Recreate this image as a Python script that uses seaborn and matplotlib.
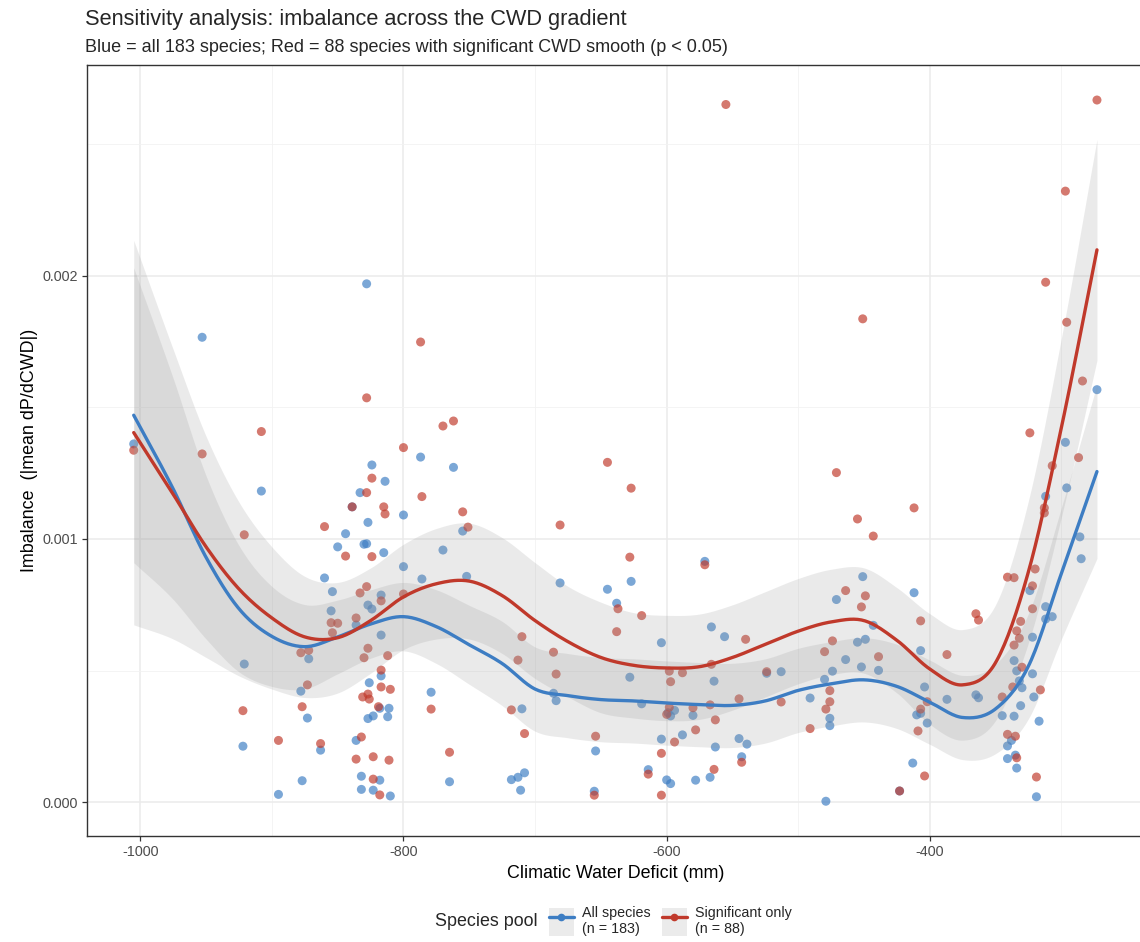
import numpy as np
import pandas as pd
import matplotlib
matplotlib.use("Agg")
import matplotlib.pyplot as plt
import seaborn as sns
from matplotlib.lines import Line2D
from matplotlib.patches import Patch
from matplotlib.ticker import MultipleLocator, FormatStrFormatter

# ---------------------------------------------------------------- data
# species-level imbalance vs climatic water deficit
all_cwd = [-828, -953, -1005, -787, -824, -814, -908, -833, -839, -800, -827, -844, -850, -830, -828,
           -815, -800, -860, -786, -854, -817, -827, -824, -855, -836, -817, -872, -921, -817, -826,
           -878, -779, -818, -811, -823, -827, -812, -873, -836, -863, -922, -877, -832, -818, -895,
           -832, -823, -810,
           -762, -755, -770, -571, -752, -681, -645, -627, -638, -566,
           -604, -556, -628, -564, -524, -513, -686, -684, -619, -599, -597, -594, -580, -710, -604,
           -588, -545, -539, -563, -654, -543, -614, -567, -578, -600, -597, -765, -718, -713, -708,
           -711, -655,
           -273,
           -297, -296, -312, -286, -285, -451, -324, -471, -412, -312, -312, -307, -443,
           -322, -455, -449, -407, -464, -336, -452, -439, -474, -334, -322, -480, -332, -404, -330,
           -321, -491, -387, -365, -363, -331, -410, -407, -402, -345, -336, -476, -476, -317, -338,
           -341, -335, -341, -413, -334, -423, -319, -479]
all_imb = [0.001969, 0.001766, 0.001361, 0.001311, 0.001281, 0.001219, 0.001182, 0.001176, 0.001122,
           0.001091, 0.001063, 0.001020, 0.000970, 0.000980, 0.000982,
           0.000948, 0.000895, 0.000852, 0.000848, 0.000800, 0.000787, 0.000749, 0.000734, 0.000727,
           0.000673, 0.000635, 0.000545, 0.000525, 0.000480, 0.000454, 0.000422, 0.000418, 0.000357,
           0.000357, 0.000328, 0.000318, 0.000325, 0.000320, 0.000235, 0.000198, 0.000213, 0.000082,
           0.000099, 0.000084, 0.000030, 0.000049, 0.000046, 0.000024,
           0.001272, 0.001030, 0.000958, 0.000915, 0.000858, 0.000833, 0.000809, 0.000839, 0.000756,
           0.000666,
           0.000606, 0.000629, 0.000475, 0.000460, 0.000490, 0.000496, 0.000414, 0.000386, 0.000374,
           0.000340, 0.000328, 0.000349, 0.000330, 0.000355, 0.000240, 0.000256, 0.000242, 0.000221,
           0.000210, 0.000195, 0.000173, 0.000124, 0.000095, 0.000084, 0.000085, 0.000071, 0.000078,
           0.000086, 0.000095, 0.000112, 0.000046, 0.000042,
           0.001567,
           0.001367, 0.001194, 0.001162, 0.001008, 0.000925, 0.000857, 0.000804, 0.000770, 0.000796,
           0.000743, 0.000696, 0.000705, 0.000672,
           0.000627, 0.000608, 0.000619, 0.000576, 0.000542, 0.000538, 0.000514, 0.000501, 0.000498,
           0.000499, 0.000488, 0.000467, 0.000461, 0.000438, 0.000435, 0.000400, 0.000396, 0.000391,
           0.000408, 0.000397, 0.000367, 0.000332, 0.000338, 0.000301, 0.000329, 0.000327, 0.000319,
           0.000291, 0.000308, 0.000235, 0.000214, 0.000179, 0.000166, 0.000149, 0.000130, 0.000043,
           0.000021, 0.000004]

sig_cwd = [-787, -828, -908, -1005, -953, -800, -824, -828, -786, -839, -815, -814, -860, -921,
           -844, -824, -828, -833, -800, -817, -836, -855, -850, -854, -827, -878, -872, -830, -812,
           -817, -873, -817, -810, -827, -831, -826, -877, -819, -779, -922, -832, -895, -863, -836,
           -823, -811, -823, -818,
           -555,
           -770, -762, -645, -627, -755, -751, -681, -628, -571, -637, -619,
           -638, -710, -540, -713, -686, -684, -598, -588, -566, -597, -524, -513, -598, -600, -580,
           -567, -545, -563, -718, -578, -708, -654, -594, -765, -604, -543, -564, -614, -655, -604,
           -273, -297, -312, -451, -296, -284,
           -324, -287, -307, -471, -412, -313, -313, -455, -443, -320, -341, -336, -322, -464, -449,
           -452, -322, -365, -363, -407, -331,
           -334, -332, -336, -474, -480, -387, -439, -330, -476, -337, -316, -345, -402, -476, -479,
           -407, -491, -409, -341, -335, -334, -404, -319, -423]
sig_imb = [0.001748, 0.001536, 0.001408, 0.001337, 0.001323, 0.001347, 0.001231, 0.001176, 0.001161,
           0.001122, 0.001122, 0.001095, 0.001047, 0.001016,
           0.000935, 0.000933, 0.000819, 0.000795, 0.000791, 0.000765, 0.000700, 0.000682, 0.000680,
           0.000644, 0.000585, 0.000568, 0.000577, 0.000549, 0.000557, 0.000502, 0.000446, 0.000438,
           0.000429, 0.000411, 0.000400, 0.000392, 0.000363, 0.000363, 0.000354, 0.000348, 0.000248,
           0.000235, 0.000223, 0.000164, 0.000173, 0.000160, 0.000088, 0.000028,
           0.002650,
           0.001429, 0.001448, 0.001291, 0.001193, 0.001103, 0.001045, 0.001053, 0.000931, 0.000902,
           0.000735, 0.000709,
           0.000648, 0.000629, 0.000619, 0.000540, 0.000570, 0.000487, 0.000498, 0.000492, 0.000524,
           0.000458, 0.000496, 0.000381, 0.000361, 0.000334, 0.000359, 0.000370, 0.000393, 0.000313,
           0.000351, 0.000275, 0.000261, 0.000251, 0.000229, 0.000190, 0.000186, 0.000152, 0.000125,
           0.000107, 0.000027, 0.000027,
           0.002667, 0.002321, 0.001975, 0.001836, 0.001823, 0.001600,
           0.001403, 0.001309, 0.001278, 0.001252, 0.001118, 0.001118, 0.001099, 0.001076, 0.001011,
           0.000886, 0.000855, 0.000853, 0.000822, 0.000804, 0.000784, 0.000742, 0.000735, 0.000716,
           0.000692, 0.000689, 0.000687,
           0.000651, 0.000623, 0.000597, 0.000613, 0.000572, 0.000561, 0.000553, 0.000513, 0.000424,
           0.000438, 0.000427, 0.000400, 0.000382, 0.000382, 0.000354, 0.000354, 0.000280, 0.000271,
           0.000258, 0.000251, 0.000169, 0.000100, 0.000096, 0.000043]

# fitted smooths and their confidence half-widths
fit_cwd = [-1005, -975, -950, -925, -900, -875, -850, -825, -800, -775, -750, -725, -700, -675,
           -650, -625, -600, -575, -550, -525, -500, -475, -450, -425, -400, -375, -350, -325,
           -300, -273]
fit_all = [0.001470, 0.001190, 0.000930, 0.000735, 0.000630, 0.000591, 0.000628, 0.000677,
           0.000705, 0.000667, 0.000598, 0.000527, 0.000430, 0.000405, 0.000390, 0.000385,
           0.000377, 0.000371, 0.000368, 0.000385, 0.000425, 0.000450, 0.000465, 0.000440,
           0.000380, 0.000322, 0.000355, 0.000518, 0.000870, 0.001256]
fit_sig = [0.001404, 0.001170, 0.000970, 0.000810, 0.000700, 0.000628, 0.000625, 0.000690,
           0.000780, 0.000830, 0.000840, 0.000785, 0.000690, 0.000610, 0.000550, 0.000520,
           0.000510, 0.000515, 0.000550, 0.000600, 0.000650, 0.000685, 0.000690, 0.000615,
           0.000506, 0.000446, 0.000531, 0.000877, 0.001424, 0.002098]
se_all = [0.00056, 0.00042, 0.00031, 0.00024, 0.00019, 0.00016, 0.00014, 0.00013, 0.00013,
          0.00014, 0.00015, 0.00016, 0.00016, 0.00016, 0.00016, 0.00016, 0.00016, 0.00016,
          0.00016, 0.00016, 0.00016, 0.00016, 0.00016, 0.00016, 0.00016, 0.00016, 0.00017,
          0.00020, 0.00025, 0.00033]
se_sig = [0.00073, 0.00055, 0.00042, 0.00033, 0.00027, 0.00023, 0.00021, 0.00020, 0.00020,
          0.00021, 0.00022, 0.00022, 0.00022, 0.00021, 0.00021, 0.00020, 0.00020, 0.00020,
          0.00020, 0.00020, 0.00020, 0.00020, 0.00020, 0.00020, 0.00021, 0.00021, 0.00022,
          0.00027, 0.00034, 0.00042]

pool_labels = ["All species\n(n = 183)", "Significant only\n(n = 88)"]
BLUE = "#3D7DC3"
RED = "#C0392B"


def hermite(xk, yk, xs):
    """Cubic Hermite interpolation through the knots (finite-difference slopes)."""
    xk = np.asarray(xk, float)
    yk = np.asarray(yk, float)
    m = np.gradient(yk, xk)
    i = np.clip(np.searchsorted(xk, xs, side="right") - 1, 0, len(xk) - 2)
    h = xk[i + 1] - xk[i]
    t = (xs - xk[i]) / h
    h00 = 2 * t**3 - 3 * t**2 + 1
    h10 = t**3 - 2 * t**2 + t
    h01 = -2 * t**3 + 3 * t**2
    h11 = t**3 - t**2
    return h00 * yk[i] + h10 * h * m[i] + h01 * yk[i + 1] + h11 * h * m[i + 1]


# ---------------------------------------------------------------- figure
sns.set_theme(style="white")
plt.rcParams["font.family"] = ["Liberation Sans", "DejaVu Sans"]

fig = plt.figure(figsize=(11.4, 9.42), dpi=100)
ax = fig.add_axes([87 / 1140, 106 / 942, 1058 / 1140, 771 / 942])

pts = pd.DataFrame({
    "cwd": all_cwd + sig_cwd,
    "imb": all_imb + sig_imb,
    "pool": [pool_labels[0]] * len(all_cwd) + [pool_labels[1]] * len(sig_cwd),
})
sns.scatterplot(data=pts, x="cwd", y="imb", hue="pool",
                palette={pool_labels[0]: BLUE, pool_labels[1]: RED},
                s=42, alpha=0.68, edgecolor="none", legend=False, ax=ax, zorder=2)

xs = np.linspace(fit_cwd[0], fit_cwd[-1], 500)
for fit, se, col in [(fit_all, se_all, BLUE), (fit_sig, se_sig, RED)]:
    ys = hermite(fit_cwd, fit, xs)
    hw = hermite(fit_cwd, se, xs)
    ax.fill_between(xs, ys - hw, ys + hw, color="#999999", alpha=0.2, lw=0, zorder=3)
for fit, col in [(fit_all, BLUE), (fit_sig, RED)]:
    ys = hermite(fit_cwd, fit, xs)
    sns.lineplot(x=xs, y=ys, color=col, lw=2.4, ax=ax, zorder=4, sort=False)

# axes, grid and ticks in a light bordered theme
ax.set_xlim(-1040.5, -236.5)
ax.set_ylim(-0.000128, 0.0028)
ax.xaxis.set_major_locator(MultipleLocator(200))
ax.xaxis.set_minor_locator(MultipleLocator(100))
ax.yaxis.set_major_locator(MultipleLocator(0.001))
ax.yaxis.set_minor_locator(MultipleLocator(0.0005))
ax.yaxis.set_major_formatter(FormatStrFormatter("%.3f"))
ax.xaxis.set_major_formatter(FormatStrFormatter("%d"))
ax.grid(True, which="major", color="#EBEBEB", lw=1.1)
ax.grid(True, which="minor", color="#F2F2F2", lw=0.6)
ax.set_axisbelow(True)
for sp in ax.spines.values():
    sp.set_color("#333333")
    sp.set_linewidth(1.0)
ax.tick_params(axis="both", which="major", length=3.5, width=0.9, color="#333333",
               labelsize=10.4, labelcolor="#4D4D4D", bottom=True, left=True, pad=3)
ax.tick_params(axis="both", which="minor", length=0)

ax.set_xlabel("Climatic Water Deficit (mm)", fontsize=12.9, color="black", labelpad=4)
ax.set_ylabel("Imbalance  (|mean dP/dCWD|)", fontsize=12.9, color="black", labelpad=3)

fig.text(85 / 1140, 1 - 19 / 942, "Sensitivity analysis: imbalance across the CWD gradient",
         fontsize=15.7, va="center", ha="left")
fig.text(85 / 1140, 1 - 47 / 942,
         "Blue = all 183 species; Red = 88 species with significant CWD smooth (p < 0.05)",
         fontsize=13, va="center", ha="left")

# legend along the bottom: title at left, two keys to its right
fig.text(435 / 1140, 1 - 922 / 942, "Species pool", fontsize=12.9, va="center", ha="left")
handles = []
for col in (BLUE, RED):
    handles.append((Patch(facecolor="#EBEBEB", edgecolor="none"),
                    Line2D([], [], color=col, lw=2.4, marker="o", ms=5.5,
                           markeredgecolor="none")))
fig.legend(handles=handles, labels=pool_labels, ncol=2, loc="center left",
           bbox_to_anchor=(536 / 1140, 1 - 921 / 942), frameon=False, fontsize=10.3,
           handlelength=1.75, handleheight=2.6, handletextpad=0.6, columnspacing=0.75,
           labelspacing=0.2)

fig.savefig("out.png", dpi=100)
